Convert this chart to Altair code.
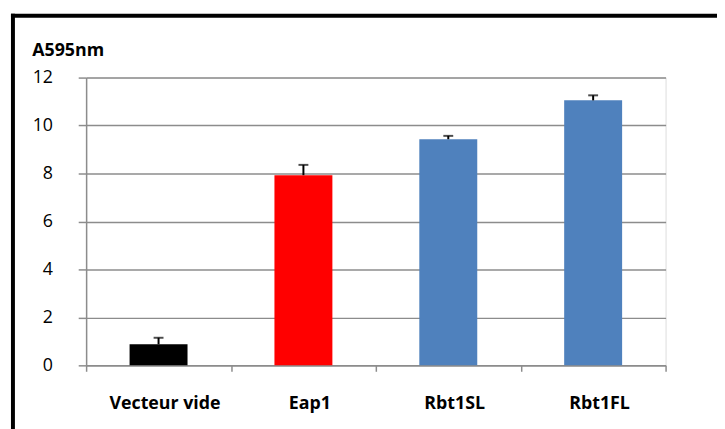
import altair as alt
import pandas as pd

categories = ["Vecteur vide", "Eap1", "Rbt1SL", "Rbt1FL"]
values = [0.88, 7.93, 9.43, 11.05]
errors = [0.27, 0.43, 0.14, 0.21]
colors = ["#000000", "#FF0000", "#4F81BD", "#4F81BD"]

df = pd.DataFrame({"cat": categories, "val": values, "err": errors, "col": colors})
df["upper"] = df["val"] + df["err"]

W, H = 586, 291
FONT = "Open Sans"

x = alt.X("cat:N", sort=categories, title=None,
          scale=alt.Scale(paddingInner=0, paddingOuter=0),
          axis=alt.Axis(tickBand="extent", labelAngle=0, labelFont=FONT, labelFontSize=18,
                        labelFontWeight="bold", labelColor="#000000", labelPadding=24,
                        labelOffset=6,
                        tickSize=6, tickColor="#8c8c8c", tickWidth=1.5,
                        domainColor="#8c8c8c", domainWidth=1.5, grid=False))
y = alt.Y("val:Q", title="A595nm",
          scale=alt.Scale(domain=[0, 12], nice=False),
          axis=alt.Axis(values=[0, 2, 4, 6, 8, 10, 12], labelFont=FONT, labelFontSize=18,
                        labelColor="#000000", labelPadding=26, tickSize=8,
                        tickColor="#8c8c8c", tickWidth=1.5, domainColor="#8c8c8c",
                        domainWidth=1.5, gridColor="#8c8c8c", gridWidth=1.5,
                        titleAngle=0, titleAlign="left", titleBaseline="middle",
                        titleX=-55, titleY=-27, titleFont=FONT, titleFontSize=18,
                        titleFontWeight="bold", titleColor="#000000"))

base = alt.Chart(df)
bars = base.mark_bar(width={"band": 0.4}).encode(
    x=x, y=y, color=alt.Color("col:N", scale=None))
err_rule = base.mark_rule(color="#000000", strokeWidth=2).encode(
    x=alt.X("cat:N", sort=categories), y="val:Q", y2="upper:Q")
err_cap = base.mark_tick(color="#000000", thickness=2, size=10).encode(
    x=alt.X("cat:N", sort=categories), y="upper:Q")

one = alt.Chart(pd.DataFrame({"a": [0]}))
border_top = one.mark_rule(color="#000000", strokeWidth=4).encode(
    x=alt.value(-76), x2=alt.value(W + 80), y=alt.value(-62.5))
border_left = one.mark_rule(color="#000000", strokeWidth=4).encode(
    x=alt.value(-74), y=alt.value(-64.5), y2=alt.value(H + 80))

chart = alt.layer(bars, err_rule, err_cap, border_top, border_left).properties(
    width=W, height=H,
    padding={"left": 79, "top": 68, "right": 52, "bottom": 62},
    autosize=alt.AutoSizeParams(type="none"),
).configure_view(stroke=None).configure(background="#ffffff")

chart.save("out.html", embed_options={"renderer": "svg", "actions": False})
